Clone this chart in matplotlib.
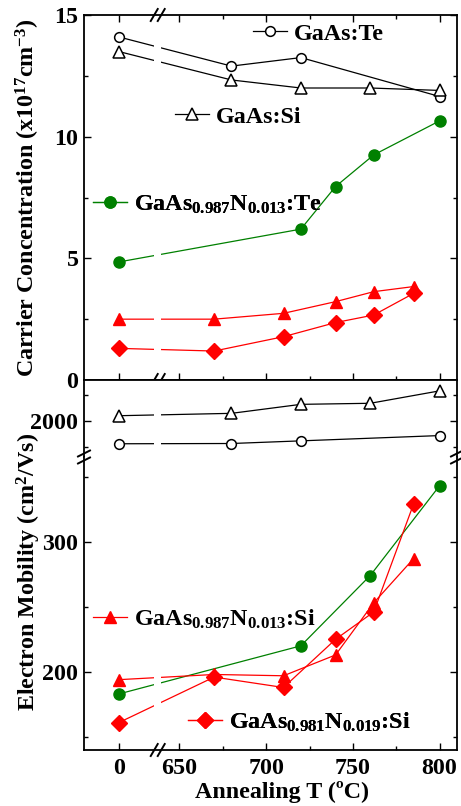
import numpy as np
import matplotlib
matplotlib.use('Agg')
import matplotlib.pyplot as plt
from matplotlib.lines import Line2D
import matplotlib.ticker as ticker

plt.rcParams['font.family'] = ['Liberation Serif', 'DejaVu Serif']
plt.rcParams['font.weight'] = 'bold'
plt.rcParams['mathtext.fontset'] = 'custom'
plt.rcParams['mathtext.rm'] = 'Liberation Serif:bold'
plt.rcParams['mathtext.it'] = 'Liberation Serif:bold'
plt.rcParams['mathtext.bf'] = 'Liberation Serif:bold'

# annealing temperature; 615 is where the as-grown ("0") sample sits
x_te = [615, 680, 720, 800]
x_si = [615, 680, 720, 760, 800]
x_nte_n = [615, 720, 740, 762, 800]
x_nte_mu = [615, 720, 760, 800]
x_nsi = [615, 670, 710, 740, 762, 785]

# carrier concentration (1e17 cm^-3)
n_te = [14.1, 12.9, 13.25, 11.65]
n_si = [13.5, 12.33, 12.0, 12.0, 11.9]
n_nte = [4.85, 6.2, 7.95, 9.25, 10.65]
n_n13si = [2.5, 2.5, 2.74, 3.22, 3.63, 3.84]
n_n19si = [1.3, 1.19, 1.78, 2.36, 2.67, 3.56]

# electron mobility (cm2/Vs)
mu_te = [1570, 1575, 1625, 1725]
mu_si = [2100, 2145, 2315, 2335, 2570]
mu_nte = [183, 220, 274, 343]
mu_n13si = [194, 198, 197, 213, 253, 287]
mu_n19si = [161, 196, 188, 225, 246, 329]

xticks = [615, 650, 700, 750, 800]
xticklabels = ['0', '650', '700', '750', '800']

GREEN = '#008000'
RED = '#ff0000'
FS = 17.3

fig = plt.figure(figsize=(4.61, 8.06), dpi=100)
W, H = 461., 806.
def box(l, t, r, b):
    return [l / W, 1 - b / H, (r - l) / W, (b - t) / H]

ax1 = fig.add_axes(box(84, 15, 457, 380))
ax2 = fig.add_axes(box(84, 380, 457, 457))
ax3 = fig.add_axes(box(84, 457, 457, 750))

for ax in (ax1, ax2, ax3):
    ax.set_xlim(595, 810)
    ax.set_xticks(xticks)
    ax.xaxis.set_minor_locator(ticker.FixedLocator([675, 725, 775]))
    ax.tick_params(which='both', direction='in', top=True, right=True,
                   labelsize=FS, width=1.0)
    ax.tick_params(which='major', length=5, pad=4)
    ax.tick_params(which='minor', length=3)
    for s in ax.spines.values():
        s.set_linewidth(1.3)
    # gap of the broken temperature axis
    ax.axvspan(635.5, 639.5, color='white', zorder=2.2, lw=0)

ax1.set_xticklabels([])
ax2.set_xticklabels([])
ax3.set_xticklabels(xticklabels)
ax3.tick_params(axis='x', pad=6)

ax2.spines['bottom'].set_visible(False)
ax2.tick_params(axis='x', which='both', bottom=False, top=False)
ax3.spines['top'].set_visible(False)
ax3.tick_params(axis='x', which='both', top=False)

# top panel: carrier concentration
ax1.set_ylim(0, 15)
ax1.set_yticks([0, 5, 10, 15])
ax1.yaxis.set_minor_locator(ticker.FixedLocator([2.5, 7.5, 12.5]))
ax1.plot(x_te, n_te, '-o', color='k', mfc='white', mec='k', ms=7, lw=0.9, mew=1.1, zorder=2)
ax1.plot(x_si, n_si, '-^', color='k', mfc='white', mec='k', ms=8, lw=0.9, mew=1.1, zorder=2)
ax1.plot(x_nte_n, n_nte, '-o', color=GREEN, ms=8, lw=0.9, zorder=2)
ax1.plot(x_nsi, n_n13si, '-^', color=RED, ms=9, lw=0.9, zorder=2)
ax1.plot(x_nsi, n_n19si, '-D', color=RED, ms=8, lw=0.9, zorder=2)

# middle panel: mobility of GaAs
ax2.set_ylim(1320, 2775)
ax2.set_yticks([2000])
ax2.yaxis.set_minor_locator(ticker.FixedLocator([1500, 2500]))
ax2.plot(x_te, mu_te, '-o', color='k', mfc='white', mec='k', ms=7, lw=0.9, mew=1.1, zorder=2)
ax2.plot(x_si, mu_si, '-^', color='k', mfc='white', mec='k', ms=8, lw=0.9, mew=1.1, zorder=2)

# lower panel: mobility of GaAsN
ax3.set_ylim(140, 365)
ax3.set_yticks([200, 300])
ax3.yaxis.set_minor_locator(ticker.FixedLocator([150, 250, 350]))
ax3.plot(x_nte_mu, mu_nte, '-o', color=GREEN, ms=8, lw=0.9, zorder=2)
ax3.plot(x_nsi, mu_n13si, '-^', color=RED, ms=9, lw=0.9, zorder=2)
ax3.plot(x_nsi, mu_n19si, '-D', color=RED, ms=8, lw=0.9, zorder=2)


def slashes(ax, xa, ya, along_x=True):
    bb = ax.get_position()
    w = bb.width * W
    h = bb.height * H
    for off in (-3.5, 3.5):
        if along_x:
            xs = [xa + (off - 3.5) / w, xa + (off + 3.5) / w]
            ys = [ya - 6 / h, ya + 6 / h]
        else:
            xs = [xa - 6 / w, xa + 6 / w]
            ys = [ya + (off - 3) / h, ya + (off + 3) / h]
        ax.plot(xs, ys, transform=ax.transAxes, color='k', lw=1.4,
                clip_on=False, zorder=5)

xb = (637.5 - 595) / (810 - 595)
slashes(ax1, xb, 1.0)
slashes(ax1, xb, 0.0)
slashes(ax3, xb, 0.0)
slashes(ax3, 0.0, 1.0, along_x=False)
slashes(ax3, 1.0, 1.0, along_x=False)


def add_leg(ax, handle, label, x_px, y_px):
    leg = ax.legend([handle], [label], loc='center left',
                    bbox_to_anchor=(x_px / W, 1 - y_px / H),
                    bbox_transform=fig.transFigure, frameon=False,
                    borderpad=0, borderaxespad=0, handlelength=1.4,
                    handletextpad=0.3, fontsize=FS)
    ax.add_artist(leg)

h_te = Line2D([], [], color='k', marker='o', mfc='white', mec='k', ms=7, lw=0.9, mew=1.1)
h_si = Line2D([], [], color='k', marker='^', mfc='white', mec='k', ms=8, lw=0.9, mew=1.1)
h_nte = Line2D([], [], color=GREEN, marker='o', ms=8, lw=0.9)
h_n13 = Line2D([], [], color=RED, marker='^', ms=9, lw=0.9)
h_n19 = Line2D([], [], color=RED, marker='D', ms=8, lw=0.9)

add_leg(ax1, h_te, 'GaAs:Te', 253, 34)
add_leg(ax1, h_si, 'GaAs:Si', 175, 117)
add_leg(ax1, h_nte, 'GaAs$_{0.987}$N$_{0.013}$:Te', 93, 205)
add_leg(ax3, h_n13, 'GaAs$_{0.987}$N$_{0.013}$:Si', 93, 619)
add_leg(ax3, h_n19, 'GaAs$_{0.981}$N$_{0.019}$:Si', 188, 722)

fig.text(28 / W, 1 - 198 / H, 'Carrier Concentration (x10$^{17}$cm$^{-3}$)',
         rotation=90, ha='center', va='center', fontsize=FS)
fig.text(29 / W, 1 - 572 / H, 'Electron Mobility (cm$^{2}$/Vs)',
         rotation=90, ha='center', va='center', fontsize=FS)
fig.text(282 / W, 1 - 792 / H, 'Annealing T (ºC)', ha='center', va='center', fontsize=FS)

fig.savefig('out.png', dpi=100)
